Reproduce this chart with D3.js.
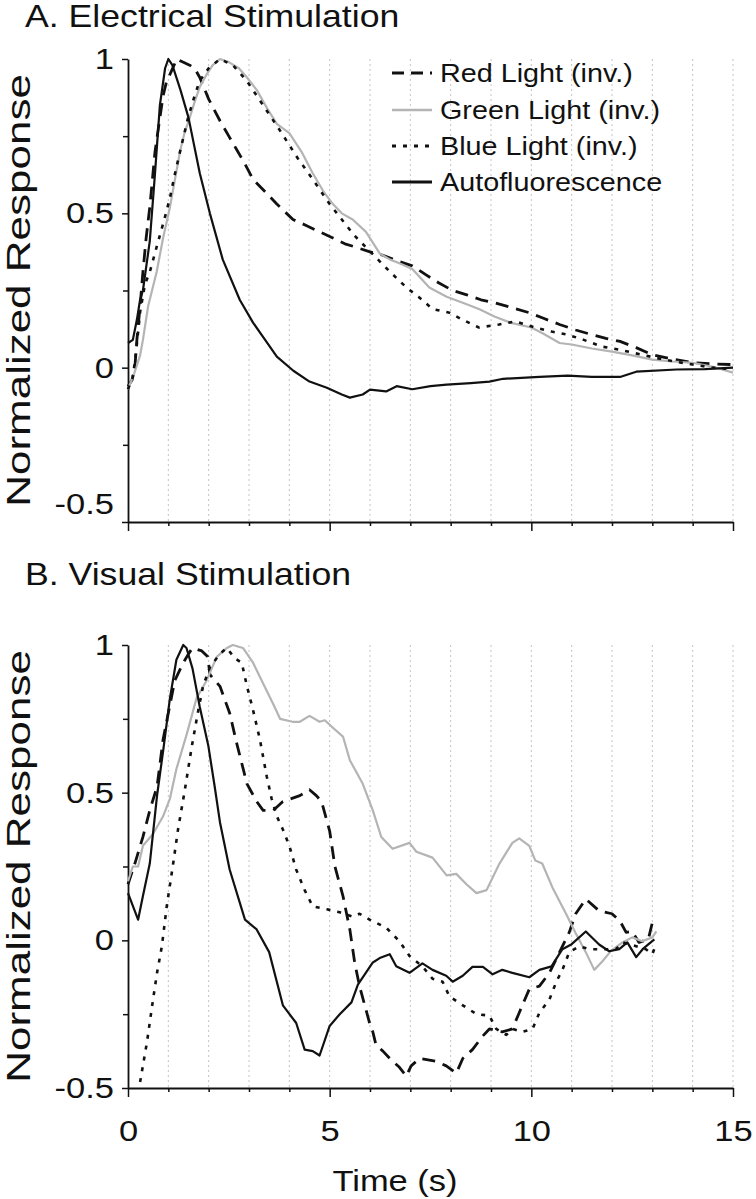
<!DOCTYPE html>
<html><head><meta charset="utf-8">
<script src="https://cdn.jsdelivr.net/npm/d3@7"></script>
<style>
html,body{margin:0;padding:0;background:#fff;}
svg text{font-family:"Liberation Sans",Arial,Helvetica,sans-serif;fill:#111;}
</style></head>
<body><svg id="chart" width="756" height="1199"></svg>
<script>
// ---------- data ----------
const seriesNames = ["Red Light (inv.)","Green Light (inv.)","Blue Light (inv.)","Autofluorescence"];
const panelTitles = ["A. Electrical Stimulation","B. Visual Stimulation"];
const xTicks = [0,5,10,15];
const yTicks = [-0.5,0,0.5,1];
const gridTimes = [1,2,3,4,5,6,7,8,9,10,11,12,13,14,15];

const elecRed = [[0,-0.06],[0.1,-0.04],[0.17,0],[0.22,0.09],[0.3,0.2],[0.37,0.31],[0.45,0.42],[0.54,0.52],[0.67,0.7],[0.78,0.8],[0.87,0.88],[0.96,0.93],[1.04,0.95],[1.21,1.0],[1.36,0.99],[1.53,0.98],[1.65,0.97],[1.78,0.94],[2.0,0.87],[2.28,0.8],[2.5,0.75],[2.7,0.705],[2.9,0.66],[3.1,0.61],[3.4,0.57],[3.69,0.53],[4.09,0.48],[4.43,0.46],[4.75,0.44],[5.08,0.42],[5.4,0.4],[5.66,0.39],[6.0,0.375],[6.3,0.365],[6.7,0.345],[7.05,0.33],[7.4,0.3],[7.7,0.275],[8.05,0.25],[8.4,0.236],[8.75,0.22],[9.1,0.21],[9.5,0.195],[9.95,0.178],[10.3,0.16],[10.7,0.14],[11.1,0.122],[11.5,0.107],[11.85,0.095],[12.2,0.085],[12.6,0.065],[13.0,0.042],[13.5,0.028],[14.0,0.016],[14.5,0.012],[15,0.01]];
const elecGreen = [[0,-0.07],[0.15,-0.02],[0.3,0.04],[0.37,0.09],[0.5,0.2],[0.71,0.31],[0.87,0.42],[1.04,0.52],[1.15,0.6],[1.29,0.7],[1.4,0.76],[1.53,0.81],[1.65,0.86],[1.78,0.91],[1.95,0.95],[2.1,0.98],[2.28,1.0],[2.5,0.99],[2.75,0.97],[2.95,0.94],[3.19,0.9],[3.45,0.84],[3.69,0.79],[4.0,0.76],[4.3,0.7],[4.58,0.63],[4.85,0.57],[5.08,0.53],[5.3,0.5],[5.57,0.48],[5.9,0.44],[6.24,0.37],[6.5,0.35],[6.7,0.34],[7.05,0.32],[7.47,0.26],[7.9,0.23],[8.3,0.21],[8.7,0.19],[9.1,0.165],[9.5,0.145],[10.0,0.13],[10.3,0.11],[10.7,0.08],[11.0,0.075],[11.5,0.062],[12.0,0.052],[12.5,0.04],[13.0,0.026],[13.5,0.02],[14.0,0.016],[14.5,0.003],[15,-0.016]];
const elecBlue = [[0,-0.07],[0.12,-0.03],[0.2,0.05],[0.3,0.18],[0.42,0.27],[0.54,0.31],[0.75,0.41],[0.9,0.48],[1.04,0.55],[1.15,0.62],[1.29,0.7],[1.49,0.81],[1.65,0.88],[1.78,0.93],[2.0,0.97],[2.28,1.0],[2.6,0.98],[2.94,0.93],[3.3,0.86],[3.76,0.77],[4.2,0.68],[4.58,0.61],[5.0,0.53],[5.3,0.48],[5.6,0.43],[5.9,0.39],[6.2,0.35],[6.5,0.31],[6.7,0.285],[6.9,0.26],[7.2,0.23],[7.55,0.19],[7.97,0.178],[8.3,0.155],[8.7,0.13],[9.2,0.14],[9.6,0.15],[10.1,0.13],[10.5,0.117],[10.9,0.107],[11.3,0.09],[11.76,0.068],[12.2,0.058],[12.8,0.04],[13.3,0.026],[14,0.01],[14.5,0.0],[15,-0.005]];
const elecAuto = [[0,0.08],[0.12,0.09],[0.22,0.155],[0.3,0.22],[0.37,0.25],[0.54,0.41],[0.67,0.63],[0.79,0.85],[0.92,0.97],[1.0,1.0],[1.1,0.98],[1.3,0.9],[1.5,0.81],[1.78,0.63],[2.03,0.5],[2.35,0.35],[2.77,0.22],[3.1,0.146],[3.4,0.09],[3.69,0.036],[4.1,-0.01],[4.5,-0.045],[4.93,-0.065],[5.3,-0.087],[5.5,-0.097],[5.82,-0.087],[6.0,-0.071],[6.4,-0.077],[6.66,-0.06],[7.05,-0.07],[7.5,-0.06],[7.9,-0.055],[8.5,-0.05],[8.96,-0.045],[9.3,-0.036],[10.2,-0.03],[10.9,-0.026],[11.5,-0.03],[12.2,-0.03],[12.6,-0.013],[13.6,-0.006],[14.3,-0.005],[15,0]];

const visRed = [[0,0.19],[0.17,0.26],[0.37,0.35],[0.54,0.44],[0.72,0.52],[0.87,0.68],[1.0,0.77],[1.16,0.88],[1.37,0.94],[1.5,0.97],[1.6,0.99],[1.83,0.98],[1.98,0.96],[2.03,0.9],[2.28,0.86],[2.52,0.77],[2.69,0.67],[2.95,0.53],[3.19,0.47],[3.35,0.44],[3.6,0.44],[3.84,0.47],[4.26,0.49],[4.5,0.51],[4.67,0.49],[4.8,0.47],[5.0,0.37],[5.13,0.25],[5.33,0.15],[5.5,0.037],[5.62,-0.075],[5.74,-0.155],[5.87,-0.22],[5.99,-0.28],[6.07,-0.31],[6.15,-0.355],[6.32,-0.375],[6.49,-0.4],[6.73,-0.43],[6.9,-0.46],[7.02,-0.425],[7.23,-0.4],[7.64,-0.41],[7.89,-0.425],[8.14,-0.45],[8.3,-0.4],[8.54,-0.37],[8.79,-0.325],[8.96,-0.3],[9.28,-0.31],[9.53,-0.3],[9.7,-0.245],[9.95,-0.165],[10.2,-0.155],[10.45,-0.11],[10.7,-0.04],[10.94,0.027],[11.1,0.09],[11.35,0.14],[11.68,0.1],[12.0,0.09],[12.2,0.065],[12.35,0.027],[12.5,0.03],[12.67,-0.007],[12.9,0.003],[13.0,0.06],[13.1,0.07]];
const visGreen = [[0,0.2],[0.12,0.25],[0.25,0.25],[0.37,0.32],[0.62,0.36],[0.87,0.42],[1.04,0.48],[1.2,0.58],[1.46,0.7],[1.7,0.82],[1.95,0.88],[2.2,0.96],[2.45,0.99],[2.6,1.0],[2.85,0.99],[3.1,0.94],[3.35,0.87],[3.6,0.8],[3.77,0.75],[4.08,0.74],[4.26,0.74],[4.5,0.76],[4.75,0.74],[4.88,0.745],[5.08,0.72],[5.33,0.69],[5.5,0.61],[5.82,0.53],[6.07,0.44],[6.28,0.35],[6.56,0.31],[6.98,0.33],[7.15,0.3],[7.55,0.28],[7.9,0.22],[8.14,0.225],[8.39,0.19],[8.64,0.16],[8.89,0.17],[9.21,0.26],[9.53,0.33],[9.7,0.345],[9.95,0.32],[10.1,0.27],[10.27,0.26],[10.52,0.18],[10.86,0.09],[11.1,0.024],[11.35,-0.04],[11.56,-0.1],[11.77,-0.07],[11.98,-0.035],[12.26,-0.007],[12.5,0.01],[12.75,-0.003],[13.0,0.01],[13.1,0.03]];
const visBlue = [[0.3,-0.48],[0.47,-0.345],[0.6,-0.22],[0.72,-0.11],[0.84,-0.02],[0.96,0.115],[1.12,0.26],[1.24,0.375],[1.41,0.51],[1.58,0.655],[1.73,0.77],[1.86,0.86],[2.03,0.925],[2.28,0.97],[2.45,0.99],[2.65,0.955],[2.82,0.94],[2.95,0.86],[3.1,0.78],[3.27,0.68],[3.44,0.555],[3.56,0.48],[3.69,0.42],[3.84,0.375],[4.0,0.32],[4.17,0.24],[4.38,0.17],[4.58,0.115],[4.93,0.105],[5.25,0.095],[5.57,0.08],[5.74,0.09],[5.99,0.07],[6.4,0.043],[6.73,-0.003],[6.98,-0.053],[7.3,-0.088],[7.55,-0.13],[7.8,-0.14],[7.97,-0.19],[8.3,-0.22],[8.64,-0.25],[8.96,-0.255],[9.13,-0.3],[9.38,-0.32],[9.53,-0.3],[9.78,-0.31],[10.03,-0.3],[10.2,-0.245],[10.45,-0.2],[10.62,-0.14],[10.77,-0.1],[10.94,-0.04],[11.19,-0.02],[11.44,-0.03],[11.76,-0.03],[12.1,-0.03],[12.26,-0.007],[12.6,-0.02],[12.84,-0.03],[13.0,-0.047],[13.1,-0.01]];
const visAuto = [[0,0.16],[0.25,0.07],[0.37,0.15],[0.54,0.26],[0.72,0.49],[0.87,0.64],[1.04,0.82],[1.2,0.95],[1.37,1.0],[1.45,0.99],[1.6,0.92],[1.78,0.79],[1.99,0.66],[2.15,0.52],[2.28,0.4],[2.52,0.24],[2.9,0.07],[3.19,0.037],[3.5,-0.04],[3.84,-0.22],[4.17,-0.28],[4.38,-0.37],[4.58,-0.375],[4.75,-0.39],[5.0,-0.29],[5.25,-0.25],[5.54,-0.21],[5.7,-0.15],[6.07,-0.075],[6.24,-0.06],[6.49,-0.047],[6.65,-0.088],[6.98,-0.11],[7.3,-0.078],[7.55,-0.1],[7.89,-0.12],[8.05,-0.14],[8.3,-0.12],[8.54,-0.09],[8.8,-0.09],[9.04,-0.115],[9.28,-0.1],[9.53,-0.11],[9.95,-0.125],[10.2,-0.1],[10.5,-0.088],[10.77,-0.03],[11.0,-0.013],[11.35,0.03],[11.68,-0.014],[11.93,-0.037],[12.18,-0.03],[12.38,-0.007],[12.6,-0.057],[12.76,-0.03],[12.9,-0.014],[13.05,0.003]];

// ---------- layout & styles ----------
const styles = [
  {stroke:"#111", width:2.8, dash:"13,8"},
  {stroke:"#b4b4b4", width:2.2, dash:null},
  {stroke:"#111", width:2.6, dash:"4,7"},
  {stroke:"#111", width:2.2, dash:null}
];
const SX = 1.15; // horizontal stretch of text
const left = 128, right = 733;
const panels = [
  {top:59, bottom:522, data:[elecRed,elecGreen,elecBlue,elecAuto], titleY:27, labels:false, legend:true, lastLabelShift:-18},
  {top:645, bottom:1088, data:[visRed,visGreen,visBlue,visAuto], titleY:585, labels:true, legend:false, lastLabelShift:0}
];

const svg = d3.select("#chart");
const x = d3.scaleLinear().domain([0,15]).range([left,right]);

function stretchText(sel, x0, y0, txt, size, anchor){
  const g = sel.append("g").attr("transform",`translate(${x0},${y0}) scale(${SX},1)`);
  g.append("text").attr("text-anchor",anchor||"start").attr("font-size",size).text(txt);
  return g;
}

panels.forEach((p,pi)=>{
  const y = d3.scaleLinear().domain([-0.5,1]).range([p.bottom,p.top]);
  const g = svg.append("g");

  // title
  stretchText(g, 25, p.titleY, panelTitles[pi], 31, "start");

  // grid
  g.append("g").selectAll("line").data(gridTimes).join("line")
    .attr("x1",d=>x(d)).attr("x2",d=>x(d)).attr("y1",y(1)).attr("y2",y(-0.5))
    .attr("stroke","#c4c4c4").attr("stroke-width",1).attr("stroke-dasharray","2,3");

  // y axis minor
  g.append("g").attr("transform",`translate(${left},0)`)
    .call(d3.axisLeft(y).tickValues([-0.25,0.25,0.75]).tickSize(5).tickFormat(""))
    .call(s=>s.select(".domain").remove())
    .call(s=>s.selectAll("line").attr("stroke","#111").attr("stroke-width",1.5));
  // y axis major
  const ya = g.append("g").attr("transform",`translate(${left},0)`)
    .call(d3.axisLeft(y).tickValues(yTicks).tickSize(6).tickSizeOuter(0).tickFormat(d=>d===0?"0":String(d)));
  ya.select(".domain").attr("stroke","#111").attr("stroke-width",1.8);
  ya.selectAll("line").attr("stroke","#111").attr("stroke-width",1.5);
  ya.selectAll("text").attr("font-size",30).attr("fill","#111")
    .attr("transform",d=>`translate(0,${d===-0.5?p.lastLabelShift:0}) scale(${SX},1)`)
    .attr("x",-14/SX);

  // x axis
  const xa = g.append("g").attr("transform",`translate(0,${p.bottom})`)
    .call(d3.axisBottom(x).tickValues(d3.range(0,16)).tickSize(4).tickSizeOuter(0).tickFormat(""));
  xa.select(".domain").attr("stroke","#111").attr("stroke-width",1.8);
  xa.selectAll(".tick line").attr("stroke","#111").attr("stroke-width",1.5)
    .attr("y2",d=>xTicks.includes(d)?9:4);
  if(p.labels){
    const xl = g.append("g").attr("transform",`translate(0,${p.bottom})`)
      .call(d3.axisBottom(x).tickValues(xTicks).tickSize(0).tickFormat(d3.format("d")));
    xl.select(".domain").remove();
    xl.selectAll("text").attr("font-size",30).attr("fill","#111")
      .attr("y",0).attr("dy",0).attr("x",0)
      .attr("transform",`translate(0,53) scale(${SX},1)`);
    // axis title
    stretchText(g, 395, 1191, "Time (s)", 30, "middle");
  }

  // y axis title (tall, narrow lettering spanning the axis)
  g.append("text").attr("transform",`translate(30,${(p.top+p.bottom)/2}) rotate(-90) scale(1,0.76)`)
    .attr("text-anchor","middle").attr("font-size",44).text("Normalized Response");

  // lines
  const line = d3.line().x(d=>x(d[0])).y(d=>y(d[1]));
  p.data.forEach((ser,si)=>{
    const st = styles[si];
    const path = g.append("path").datum(ser).attr("d",line).attr("fill","none")
      .attr("stroke",st.stroke).attr("stroke-width",st.width).attr("stroke-linejoin","round");
    if(st.dash) path.attr("stroke-dasharray",st.dash);
  });

  // legend
  if(p.legend){
    const lg = g.append("g");
    const rows = [73,110,146,182];
    seriesNames.forEach((nm,i)=>{
      const st = styles[i];
      const l = lg.append("line").attr("x1",392).attr("x2",432).attr("y1",rows[i]).attr("y2",rows[i])
        .attr("stroke",st.stroke).attr("stroke-width",i===3?3.2:st.width+0.4);
      if(st.dash) l.attr("stroke-dasharray", i===0?"12,7":"4,7");
      stretchText(lg, 440, rows[i]+9, nm, 25, "start");
    });
  }
});
</script></body></html>
